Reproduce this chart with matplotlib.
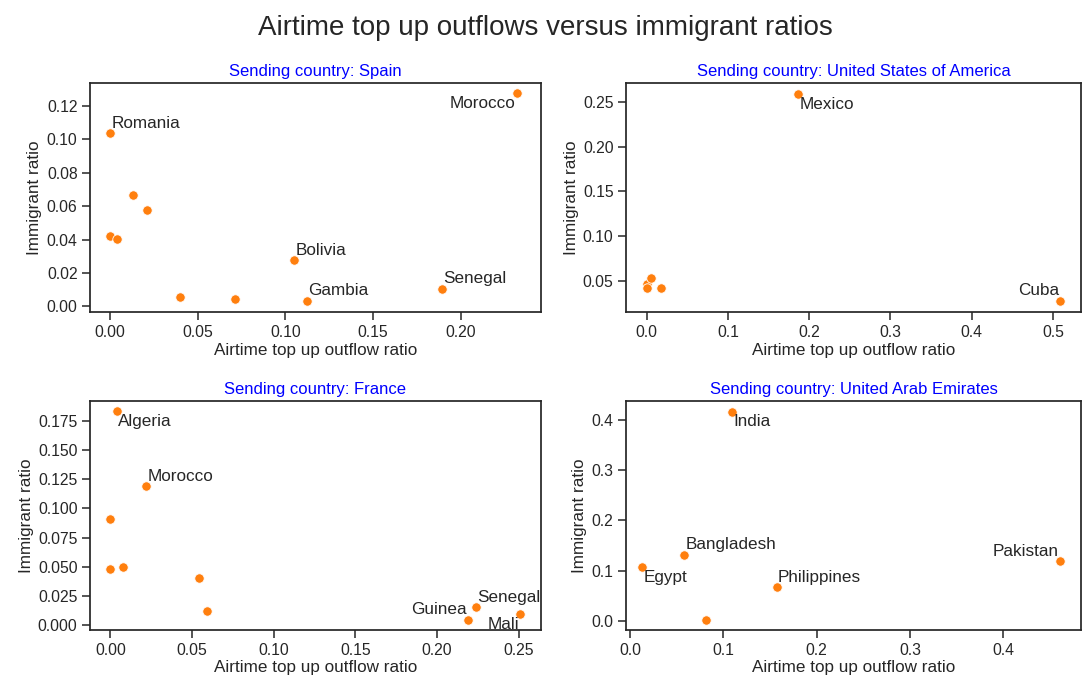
"""
Airtime top up outflows vs immigrant ratios, four sending countries
"""

import matplotlib
matplotlib.use("Agg")
import matplotlib.pyplot as plt
import seaborn as sns

sns.set_style("ticks")
plt.rcParams['font.family'] = ['Liberation Sans', 'DejaVu Sans']

# Spain
spain_x = [0.232, 0.000, 0.013, 0.021, 0.000, 0.004, 0.105, 0.189, 0.112, 0.040, 0.071]
spain_y = [0.1275, 0.1035, 0.0665, 0.0575, 0.0420, 0.0405, 0.0275, 0.0105, 0.0035, 0.0055, 0.0042]
spain_lbl = ["Morocco", "Romania", "", "", "", "", "Bolivia", "Senegal", "Gambia", "", ""]
spain_pos = ["bl", "tr", "", "", "", "", "tr", "tr", "tr", "", ""]

# United States of America
usa_x = [0.186, 0.509, 0.000, 0.000, 0.005, 0.018]
usa_y = [0.258, 0.028, 0.047, 0.042, 0.054, 0.043]
usa_lbl = ["Mexico", "Cuba", "", "", "", ""]
usa_pos = ["br", "tl", "", "", "", ""]

# France
france_x = [0.004, 0.022, 0.000, 0.000, 0.008, 0.054, 0.059, 0.224, 0.219, 0.251]
france_y = [0.184, 0.119, 0.091, 0.048, 0.050, 0.040, 0.012, 0.015, 0.004, 0.0095]
france_lbl = ["Algeria", "Morocco", "", "", "", "", "", "Senegal", "Guinea", "Mali"]
france_pos = ["br", "tr", "", "", "", "", "", "tr", "tl", "bl"]

# United Arab Emirates
uae_x = [0.109, 0.058, 0.013, 0.157, 0.461, 0.081]
uae_y = [0.416, 0.131, 0.107, 0.067, 0.119, 0.003]
uae_lbl = ["India", "Bangladesh", "Egypt", "Philippines", "Pakistan", ""]
uae_pos = ["br", "tr", "br", "tr", "tl", ""]

paneles = [
    ("Spain", spain_x, spain_y, spain_lbl, spain_pos,
     (-0.0115, 0.2455), (-0.0035, 0.1335), [0.00, 0.02, 0.04, 0.06, 0.08, 0.10, 0.12], "{:.2f}"),
    ("United States of America", usa_x, usa_y, usa_lbl, usa_pos,
     (-0.0255, 0.5345), (0.0155, 0.2705), [0.05, 0.10, 0.15, 0.20, 0.25], "{:.2f}"),
    ("France", france_x, france_y, france_lbl, france_pos,
     (-0.0125, 0.2635), (-0.0045, 0.1925), [0.0, 0.025, 0.05, 0.075, 0.1, 0.125, 0.15, 0.175], "{:.3f}"),
    ("United Arab Emirates", uae_x, uae_y, uae_lbl, uae_pos,
     (-0.0045, 0.4835), (-0.0175, 0.4375), [0.0, 0.1, 0.2, 0.3, 0.4], "{:.1f}"),
]

xticks = {
    "Spain": ([0.0, 0.05, 0.10, 0.15, 0.20], "{:.2f}"),
    "United States of America": ([0.0, 0.1, 0.2, 0.3, 0.4, 0.5], "{:.1f}"),
    "France": ([0.0, 0.05, 0.10, 0.15, 0.20, 0.25], "{:.2f}"),
    "United Arab Emirates": ([0.0, 0.1, 0.2, 0.3, 0.4], "{:.1f}"),
}

# alineacion de etiquetas respecto al punto
alin = {
    "tr": ("left", "bottom", 1, 2),
    "tl": ("right", "bottom", -1, 2),
    "br": ("left", "top", 1, -2),
    "bl": ("right", "top", -1, -2),
}

fig = plt.figure(figsize=(10.91, 6.76), dpi=100)
posiciones = [
    [0.0825, 0.538, 0.413, 0.339],
    [0.5738, 0.538, 0.417, 0.339],
    [0.0825, 0.068, 0.413, 0.339],
    [0.5738, 0.068, 0.417, 0.339],
]

for pos, (pais, xs, ys, lbls, lpos, xlim, ylim, yt, yfmt) in zip(posiciones, paneles):
    ax = fig.add_axes(pos)
    ax.scatter(xs, ys, s=46, color='#ff7f0e', edgecolor='white', linewidth=0.6, zorder=3)
    for x, y, name, p in zip(xs, ys, lbls, lpos):
        if not name:
            continue
        ha, va, dx, dy = alin[p]
        ax.annotate(name, (x, y), xytext=(dx, dy), textcoords='offset points',
                    ha=ha, va=va, fontsize=12.3, color='#262626')
    ax.set_xlim(*xlim)
    ax.set_ylim(*ylim)
    ax.set_yticks(yt)
    ax.set_yticklabels([yfmt.format(v) for v in yt])
    xt, xfmt = xticks[pais]
    ax.set_xticks(xt)
    ax.set_xticklabels([xfmt.format(v) for v in xt])
    ax.tick_params(labelsize=11.3, colors='#262626', length=6, width=1.1, pad=3)
    ax.set_xlabel('Airtime top up outflow ratio', fontsize=12.3, color='#262626', labelpad=2)
    ax.set_ylabel('Immigrant ratio', fontsize=12.3, color='#262626', labelpad=3)
    ax.set_title(f'Sending country: {pais}', color='blue', fontsize=12, pad=5)
    for sp in ax.spines.values():
        sp.set_linewidth(1.25)
        sp.set_color('#262626')

fig.suptitle('Airtime top up outflows versus immigrant ratios', fontsize=20,
             color='#262626', y=0.978)

plt.savefig('out.png', dpi=100)
plt.close()
